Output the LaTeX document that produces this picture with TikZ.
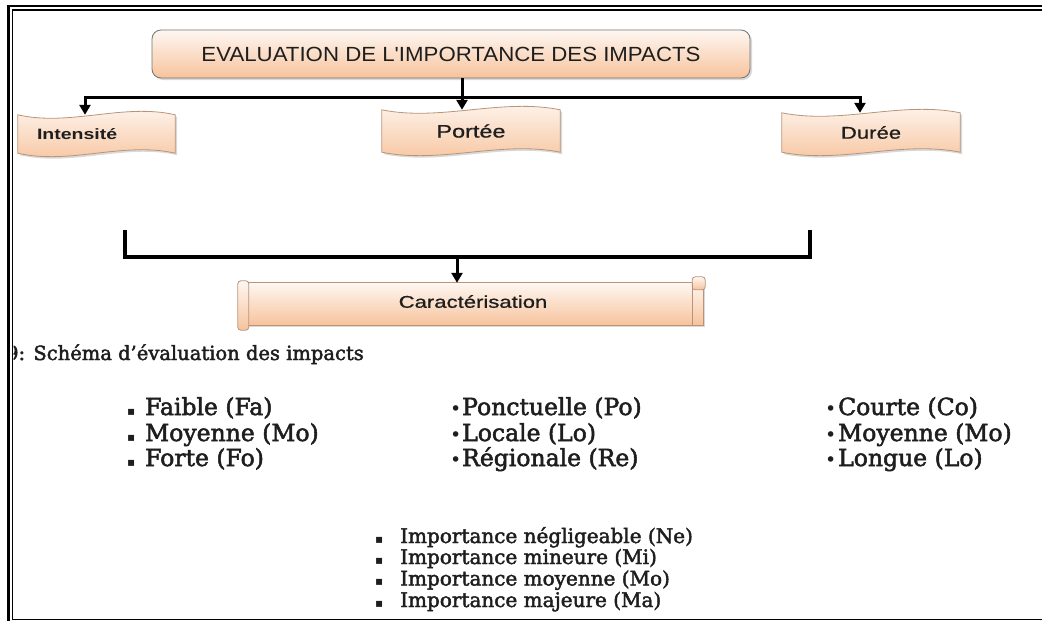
\documentclass[tikz,border=0pt]{standalone}
\usepackage{fontspec}
\usetikzlibrary{arrows.meta,calc,backgrounds,shadows}
\newfontfamily\titlef[FakeStretch=1.085]{Liberation Sans}
\newfontfamily\lblf[FakeStretch=1.3,FakeBold=0.8]{Liberation Sans}
\newfontfamily\lblbf[FakeStretch=1.3]{Liberation Sans Bold}
\newfontfamily\serf[FakeBold=2.2]{DejaVu Serif}
\newfontfamily\symf{DejaVu Sans}
\definecolor{peach}{HTML}{F7C39C}
\definecolor{peachtop}{HTML}{FEF7F2}
\definecolor{boxline}{HTML}{B8957A}
\definecolor{txt}{HTML}{1E1E1E}
\tikzset{
  conn/.style={line width=3pt, draw=black},
  tip/.style={-{Triangle[length=10pt,width=11pt]}},
  shapefill/.style={top color=peachtop, bottom color=peach, draw=boxline, line width=0.8pt},
  shadowed/.style={drop shadow={shadow xshift=2pt, shadow yshift=-2pt, opacity=0.25, fill=black!60}},
  wavebox/.style={inner ysep=0pt, text=txt},
  item/.style={anchor=base west, inner sep=0pt, text=txt, font=\serf\fontsize{23.5}{26}\selectfont},
  imp/.style={anchor=base west, inner sep=0pt, text=txt, font=\serf\fontsize{20}{22}\selectfont},
}
\newcommand\wavepath[1]{%
  \path[shapefill, shadowed] (#1.north west)
    .. controls ($(#1.north west)!0.33!(#1.north east)+(0,-12pt)$) and ($(#1.north west)!0.67!(#1.north east)+(0,12pt)$) .. (#1.north east)
    -- (#1.south east)
    .. controls ($(#1.south west)!0.67!(#1.south east)+(0,12pt)$) and ($(#1.south west)!0.33!(#1.south east)+(0,-12pt)$) .. (#1.south west)
    -- cycle;}
\newcommand\sqb{{\symf\fontsize{12}{12}\selectfont ▪}}
\newcommand\rdb{{\symf\fontsize{19}{19}\selectfont •}}
\begin{document}
\begin{tikzpicture}[x=1pt, y=-1pt]
\useasboundingbox (0,0) rectangle (1042,621);

% title
\node[rounded corners=9pt, shapefill, draw=black!55, shadowed, minimum width=598pt, minimum height=48pt,
      text=txt, font=\titlef\fontsize{20.5}{23}\selectfont] (title) at (451,54) {EVALUATION DE L'IMPORTANCE DES IMPACTS};

% wave boxes
\node[wavebox, minimum height=38pt, inner xsep=19pt, text width=119pt, align=left,
      font=\lblbf\fontsize{15}{17}\selectfont] (intensite) at (96.5,134) {Intensité};
\node[wavebox, minimum width=178pt, minimum height=42pt, font=\lblf\fontsize{18}{20}\selectfont] (portee) at (471,131) {Portée};
\node[wavebox, minimum width=178pt, minimum height=39pt, font=\lblf\fontsize{17}{19}\selectfont] (duree) at (871,132.5) {Durée};

% scroll
\node[minimum width=460pt, minimum height=42pt, inner sep=0pt, text=txt, font=\lblf\fontsize{17}{19}\selectfont] (carac) at (473,304) {\raisebox{5pt}{Caractérisation}};

\begin{pgfonlayer}{background}
  \wavepath{intensite}
  \wavepath{portee}
  \wavepath{duree}
  \path[shapefill, shadowed] (carac.north west) rectangle (carac.south east);
  \path[shapefill, rounded corners=3pt] ([xshift=-5pt,yshift=2pt]carac.north west) rectangle ([xshift=6pt,yshift=-5pt]carac.south west);
  \path[shapefill, rounded corners=3pt] ([xshift=-11pt,yshift=6pt]carac.north east) rectangle ([xshift=2pt,yshift=-7pt]carac.north east);
  \draw[boxline, line width=0.6pt] ([xshift=-11pt]carac.north east) -- ([xshift=-11pt]carac.south east);
\end{pgfonlayer}

% connectors
\coordinate (bus) at (462,97);
\draw[conn, tip] (title.south -| bus) -- (portee.north -| bus);
\draw[conn, tip] (bus) -| ([xshift=-11.5pt]intensite.north);
\draw[conn, tip] (bus) -| ([xshift=-11pt]duree.north);

\coordinate (bL) at (125,230);
\coordinate (bR) at (810,230);
\coordinate (bM) at (457,257);
\draw[conn, line width=3.4pt] (bL) |- (bM) -| (bR);
\draw[conn, tip] (bM) -- (carac.north -| bM);

% caption
\begin{scope}
  \clip (13.5,330) rectangle (700,380);
  \node[anchor=base west, inner sep=0pt, text=txt, font=\serf\fontsize{19.5}{22}\selectfont] (caption) at (6,360) {9: Schéma d’évaluation des impacts};
\end{scope}

% lists
\node[item] (fa) at (127,415) {\makebox[18pt][l]{\sqb}Faible (Fa)};
\node[item] (mo1) at (127,441) {\makebox[18pt][l]{\sqb}Moyenne (Mo)};
\node[item] (fo) at (127,466) {\makebox[18pt][l]{\sqb}Forte (Fo)};

\node[item] (po) at (450,415) {\makebox[12pt][l]{\rdb}Ponctuelle (Po)};
\node[item] (lo1) at (450,441) {\makebox[12pt][l]{\rdb}Locale (Lo)};
\node[item] (re) at (450,466) {\makebox[12pt][l]{\rdb}Régionale (Re)};

\node[item] (co) at (825,415) {\makebox[13pt][l]{\rdb}Courte (Co)};
\node[item] (mo2) at (825,441) {\makebox[13pt][l]{\rdb}Moyenne (Mo)};
\node[item] (lo2) at (825,466) {\makebox[13pt][l]{\rdb}Longue (Lo)};

\node[imp] (ne) at (375,543) {\makebox[25pt][l]{\sqb}Importance négligeable (Ne)};
\node[imp] (mi) at (375,564) {\makebox[25pt][l]{\sqb}Importance mineure (Mi)};
\node[imp] (mo3) at (375,585.5) {\makebox[25pt][l]{\sqb}Importance moyenne (Mo)};
\node[imp] (ma) at (375,607) {\makebox[25pt][l]{\sqb}Importance majeure (Ma)};

% frame
\draw[line width=2.5pt] (8.5,621) -- (8.5,6.2) -- (1042,6.2);
\draw[line width=1.5pt] (12.7,619.5) -- (12.7,10.2) -- (1042,10.2);
\draw[line width=1.8pt] (12.7,619.5) -- (1042,619.5);
\end{tikzpicture}
\end{document}
